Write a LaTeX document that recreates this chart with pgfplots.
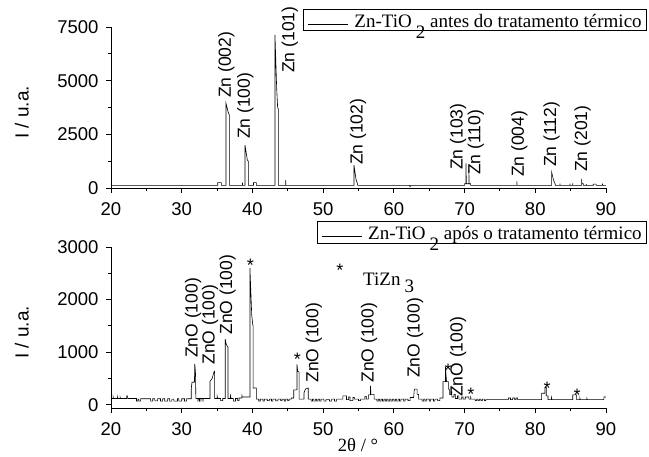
\documentclass[border=0pt]{standalone}
\usepackage{fontspec}
\setmainfont{Liberation Serif}
\newfontfamily\sansf{Liberation Sans}
\usepackage{pgfplots}
\pgfplotsset{compat=1.18}
\newcommand\strt{\rule[-11pt]{0pt}{27pt}}
\pgfplotsset{
 xrd/.style={
  scale only axis, width=495pt, height=161pt,
  xmin=20, xmax=90,
  axis x line*=bottom, axis y line*=left,
  axis line style={-, line width=0.9pt, black},
  xtick={20,30,...,90}, minor x tick num=1, minor y tick num=1,
  tick align=outside, major tick length=5pt, minor tick length=3pt,
  tick style={black, line width=0.9pt},
  ticklabel style={font=\sansf\fontsize{18.5}{18.5}\selectfont},
  xticklabel style={yshift=-6pt},
  yticklabel style={xshift=-4pt},
  /pgf/number format/assume math mode=true,
  /pgf/number format/1000 sep={},
  scaled y ticks=false,
  clip=false,
  ylabel={I / u.a.},
  ylabel style={font=\sansf\fontsize{19}{19}\selectfont, at={(axis description cs:-0.18,0.47)}, anchor=center},
  legend cell align=left,
  legend image code/.code={\draw[black,line width=0.6pt] (0pt,-4pt) -- (40pt,-4pt); \path (45pt,0pt);},
 },
 lgd/.style={legend style={font=\fontsize{19}{19}\selectfont, draw=black, line width=0.8pt, fill=white,
    inner xsep=4pt, inner ysep=0pt, nodes={inner ysep=2pt, inner xsep=1pt},
    at={(axis description cs:1.083,#1)}, anchor=north east}},
 dat/.style={black, line width=0.6pt, mark=none, sharp plot},
}
\tikzset{
 lbl/.style={rotate=90, anchor=west, inner sep=0pt, font=\sansf\fontsize{17.5}{17.5}\selectfont},
 star/.style={anchor=north, inner sep=0pt, font=\sansf\fontsize{18}{18}\selectfont},
}
\begin{document}
\begin{tikzpicture}
% ---------- top ----------
\begin{axis}[xrd, at={(111pt,-188pt)}, anchor=south west,
  ymin=0, ymax=7500, ytick={0,2500,5000,7500}, lgd=1.112]
\addplot[dat] coordinates {
(20,120)(35.1,120)(35.1,250)(35.6,250)(35.6,120)
(36.26,120)(36.26,3950)(36.6,3500)(36.73,3400)(36.73,120)
(38.6,120)(38.6,250)(38.62,120)
(38.95,120)(38.95,2000)(39.28,1300)(39.42,1250)(39.42,120)
(40.15,120)(40.15,250)(40.55,250)(40.55,120)
(43.19,120)(43.19,7130)(43.43,4640)(43.57,3730)(43.66,3700)(43.66,120)
(44.7,120)(44.7,370)(44.72,120)
(54.36,120)(54.36,1070)(54.65,400)(54.83,220)(54.9,120)
(62.2,120)(62.3,60)(62.4,120)
(70.0,120)(70.0,200)(70.2,200)(70.2,1150)(70.25,200)(70.6,200)(70.6,840)(70.65,200)(70.85,200)(70.85,120)
(77.4,120)(77.4,320)(77.42,120)
(82.32,120)(82.32,730)(82.55,400)(82.8,200)(82.85,120)
(83.5,120)(83.5,200)(83.52,120)
(84.9,120)(84.9,200)(84.92,120)(85.3,120)(85.3,220)(85.32,120)
(86.55,120)(86.55,420)(86.6,200)(86.8,200)(86.8,120)
(87.2,120)(87.2,180)(87.22,120)
(88.2,120)(88.2,180)(88.6,180)(88.6,120)(89.5,120)(89.5,200)(89.52,120)(90,120)
};
\addlegendentry{\strt Zn-TiO\kern4pt\raisebox{-0.6em}{2} antes do tratamento térmico}
\node[lbl] at (axis cs:36.3,4190) {Zn (002)};
\node[lbl] at (axis cs:39.0,2280) {Zn (100)};
\node[lbl] at (axis cs:45.3,5360) {Zn (101)};
\node[lbl] at (axis cs:54.95,1070) {Zn (102)};
\node[lbl] at (axis cs:69.1,840) {Zn (103)};
\node[lbl] at (axis cs:71.6,600) {Zn (110)};
\node[lbl] at (axis cs:77.75,510) {Zn (004)};
\node[lbl] at (axis cs:82.3,980) {Zn (112)};
\node[lbl] at (axis cs:86.7,750) {Zn (201)};
\end{axis}
% ---------- bottom ----------
\begin{axis}[xrd, at={(111pt,-408pt)}, anchor=south west,
  ymin=-60, ymax=3000, ytick={0,1000,2000,3000}, lgd=1.161]
\addplot[dat] coordinates {
(20,120)(20.3,120)(20.3,150)(20.35,120)(20.9,120)(20.9,150)(20.95,120)(21.3,120)(21.3,140)(21.35,120)
(22.2,120)(22.2,170)(22.35,170)(22.35,120)
(23.6,120)(23.6,70)(23.8,70)(23.8,110)(23.95,110)(23.95,70)(24.2,70)(24.2,115)
(25.6,115)(25.6,70)(25.9,70)(25.9,115)(26.2,115)(26.2,75)(26.6,75)(26.6,115)(27.0,115)(27.0,70)(27.3,70)(27.3,115)
(27.6,115)(27.6,70)(28.0,70)(28.0,115)(28.3,115)(28.3,70)(28.6,70)(28.6,110)(28.9,110)(28.9,70)(29.4,70)(29.4,115)
(29.6,115)(29.6,70)(30.0,70)(30.0,115)(30.4,115)(30.4,70)(30.7,70)(30.7,115)
(31.35,115)(31.35,300)(31.45,430)(31.8,430)(31.85,780)(31.95,600)(32.0,120)
(32.3,120)(32.3,60)(32.35,120)(32.5,120)(32.5,60)(32.55,120)(32.7,120)(32.7,60)(32.75,120)(33.0,120)(33.0,60)(33.05,120)
(34.0,120)(34.0,450)(34.3,500)(34.6,640)(34.65,640)(34.65,120)
(35.0,120)(35.0,170)(35.1,120)(35.5,120)(35.5,80)(35.8,80)(35.8,120)
(36.15,120)(36.15,1250)(36.3,1150)(36.45,1110)(36.55,1100)(36.55,120)
(36.9,120)(36.9,170)(37.0,120)(37.3,120)(37.3,70)(37.6,70)(37.6,120)(37.9,120)(37.9,80)(38.1,80)(38.1,130)
(38.5,130)(38.5,200)(38.55,150)
(39.65,150)(39.65,2600)(39.9,1710)(40.05,1520)(40.1,1500)(40.1,320)(40.55,320)(40.55,110)
(40.9,110)(40.9,70)(41.1,70)(41.1,110)(41.5,110)(41.5,70)(41.7,70)(41.7,110)(42.1,110)(42.1,80)(42.4,80)(42.4,110)
(42.7,110)(42.7,70)(42.9,70)(42.9,110)(43.3,110)(43.3,75)(43.6,75)(43.6,110)(44.0,110)(44.0,80)(44.2,80)(44.2,110)
(44.5,110)(44.5,70)(44.7,70)(44.7,110)(45.0,110)(45.0,80)(45.2,80)(45.2,110)(45.5,110)(45.5,130)
(45.85,130)(45.85,285)(46.3,285)(46.3,770)(46.4,640)(46.6,620)(46.6,110)
(47.3,110)(47.3,230)(47.5,300)(47.9,320)(47.9,110)
(48.3,110)(48.3,70)(48.5,70)(48.5,110)(48.7,110)(48.7,70)(48.9,70)(48.9,110)(49.1,110)(49.1,70)(49.3,70)(49.3,110)
(49.5,110)(49.5,70)(49.7,70)(49.7,110)(50.1,110)(50.1,70)(50.4,70)(50.4,100)(50.9,100)(50.9,70)(51.2,70)(51.2,110)
(51.6,110)(51.6,70)(51.9,70)(51.9,110)
(52.8,110)(52.8,170)(53.3,170)(53.3,100)(53.6,100)(53.6,150)(53.8,150)(53.8,80)(54.2,80)(54.2,140)(54.4,140)(54.4,110)
(55.0,110)(55.0,80)(55.3,80)(55.3,110)(55.9,110)(55.9,160)(56.1,160)(56.1,110)
(56.4,110)(56.4,190)(56.7,190)(56.7,360)(56.75,200)(57.2,200)(57.2,110)
(57.6,110)(57.6,70)(57.8,70)(57.8,110)(58.0,110)(58.0,70)(58.2,70)(58.2,110)(58.4,110)(58.4,70)(58.6,70)(58.6,110)
(58.8,110)(58.8,70)(59.0,70)(59.0,110)(59.2,110)(59.2,70)(59.4,70)(59.4,110)(59.6,110)(59.6,70)(59.8,70)(59.8,110)
(60.0,110)(60.0,70)(60.2,70)(60.2,110)(60.4,110)(60.4,70)(60.6,70)(60.6,110)(60.8,110)(60.8,70)(61.0,70)(61.0,110)
(61.4,110)(61.4,70)(61.6,70)(61.6,110)(62.0,110)(62.0,80)(62.3,80)(62.3,140)
(62.8,140)(62.9,300)(63.3,300)(63.3,200)(63.5,200)(63.5,110)
(64.0,110)(64.0,70)(64.2,70)(64.2,110)(64.4,110)(64.4,70)(64.6,70)(64.6,110)(65.0,110)(65.0,70)(65.2,70)(65.2,110)
(65.6,110)(65.6,70)(65.8,70)(65.8,110)(66.2,110)(66.2,80)(66.5,80)(66.5,130)
(66.95,130)(66.95,440)(67.3,440)(67.3,720)(67.45,440)(67.7,440)(67.7,300)(67.85,300)(67.85,200)(68.1,200)(68.1,250)(68.2,250)(68.2,150)
(68.5,150)(68.5,200)(68.7,200)(68.7,120)(69.0,120)(69.0,170)(69.2,170)(69.2,110)(69.6,110)(69.6,150)(69.8,150)(69.8,110)
(70.1,110)(70.1,150)(70.6,150)(70.6,110)(70.85,110)(70.85,170)(70.9,110)
(71.5,110)(71.5,80)(71.7,80)(71.7,110)(71.9,110)(71.9,80)(72.1,80)(72.1,110)(72.3,110)(72.3,80)(72.5,80)(72.5,110)
(72.8,110)(72.8,80)(73.0,80)(73.0,100)(76.2,100)(76.2,130)(76.5,130)(76.5,100)(76.8,100)(76.8,130)(77.1,130)(77.1,100)
(77.3,100)(77.3,130)(77.5,130)(77.5,100)
(80.9,100)(80.9,220)(81.35,220)(81.35,330)(81.55,330)(81.55,170)(81.8,170)(81.8,100)
(82.3,100)(82.3,130)(82.35,100)(85.3,100)(85.3,190)(85.85,190)(85.85,100)(86.3,100)(86.3,130)(86.35,100)
(87.3,100)(87.3,120)(87.35,100)(89.7,100)(89.7,150)(90,150)
};
\addlegendentry{\strt Zn-TiO\kern4pt\raisebox{-0.6em}{2} após o tratamento térmico}
\node[lbl] at (axis cs:31.6,890) {ZnO (100)};
\node[lbl] at (axis cs:34.0,760) {ZnO (100)};
\node[lbl] at (axis cs:36.5,1330) {ZnO (100)};
\node[lbl] at (axis cs:48.7,420) {ZnO (100)};
\node[lbl] at (axis cs:56.5,420) {ZnO (100)};
\node[lbl] at (axis cs:63.0,510) {ZnO (100)};
\node[lbl] at (axis cs:69.1,150) {ZnO (100)};
\node[star] at (axis cs:39.7,2770) {*};
\node[star] at (axis cs:46.35,990) {*};
\node[star] at (axis cs:67.66,780) {*};
\node[star] at (axis cs:70.9,320) {*};
\node[star] at (axis cs:81.66,440) {*};
\node[star] at (axis cs:85.9,300) {*};
\end{axis}
\node[anchor=north, inner sep=0pt, font=\sansf\fontsize{18}{18}\selectfont] at (340pt,-264pt) {*};
\node[anchor=base west, inner sep=0pt, font=\fontsize{19}{19}\selectfont] at (363pt,-285pt) {TiZn\kern4pt\raisebox{-0.4em}{3}};
\node[anchor=base, inner sep=0pt, font=\fontsize{18.6}{18.6}\selectfont] at (358pt,-451pt) {2θ / °};
\pgfresetboundingbox
\useasboundingbox (0pt,0pt) rectangle (649pt,-456pt);
\end{tikzpicture}
\end{document}
